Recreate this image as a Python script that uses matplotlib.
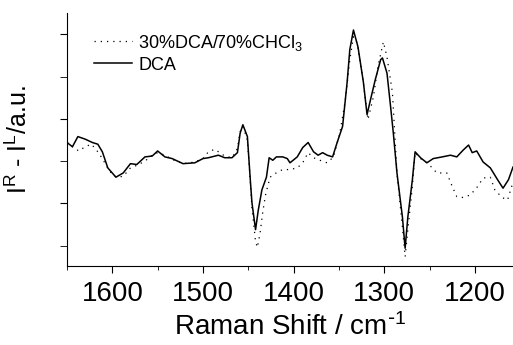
import matplotlib
matplotlib.use("Agg")
import matplotlib.pyplot as plt
from matplotlib.ticker import MultipleLocator

plt.rcParams['font.family'] = ['Liberation Sans', 'DejaVu Sans']
plt.rcParams['mathtext.default'] = 'regular'

# DCA (solid)
dca_x = [1650, 1644, 1638, 1630, 1622, 1616, 1611, 1605, 1596, 1588, 1580, 1573,
         1564, 1556, 1550, 1542, 1534, 1522, 1509, 1500, 1494, 1483, 1476, 1468,
         1462, 1459, 1456, 1451, 1448, 1446, 1442, 1439, 1435, 1430, 1427, 1423,
         1419, 1412, 1407, 1404, 1396, 1390, 1384, 1378, 1373, 1368, 1363, 1357,
         1352, 1346, 1341, 1338, 1334, 1329, 1323, 1319, 1316, 1310, 1304, 1302,
         1297, 1293, 1290, 1286, 1280, 1277, 1274, 1269, 1266, 1260, 1253, 1246,
         1236, 1227, 1220, 1213, 1207, 1203, 1198, 1191, 1183, 1175, 1169, 1163, 1158]
dca_y = [-0.28, -0.33, -0.21, -0.24, -0.28, -0.30, -0.39, -0.58, -0.69, -0.64, -0.53, -0.54,
         -0.45, -0.44, -0.38, -0.45, -0.47, -0.53, -0.52, -0.47, -0.46, -0.43, -0.46, -0.46,
         -0.40, -0.17, -0.07, -0.21, -0.69, -0.99, -1.31, -1.08, -0.84, -0.69, -0.46, -0.49,
         -0.45, -0.45, -0.47, -0.52, -0.45, -0.34, -0.28, -0.39, -0.43, -0.40, -0.43, -0.45,
         -0.28, -0.09, 0.43, 0.82, 1.05, 0.85, 0.43, 0.05, 0.19, 0.46, 0.70, 0.72,
         0.54, 0.14, -0.17, -0.64, -1.16, -1.53, -1.16, -0.72, -0.39, -0.46, -0.52, -0.47,
         -0.45, -0.43, -0.45, -0.37, -0.31, -0.40, -0.38, -0.51, -0.58, -0.72, -0.82, -0.72, -0.57]

# 30%DCA/70%CHCl3 (dotted)
mix_x = [1650, 1644, 1637, 1630, 1623, 1616, 1611, 1603, 1596, 1588, 1580, 1573,
         1564, 1556, 1550, 1542, 1534, 1522, 1509, 1500, 1494, 1487, 1476, 1468,
         1462, 1459, 1456, 1451, 1448, 1446, 1442, 1440, 1437, 1434, 1431, 1426,
         1418, 1412, 1404, 1396, 1390, 1384, 1378, 1371, 1363, 1356, 1349, 1343,
         1338, 1334, 1330, 1324, 1318, 1312, 1307, 1301, 1297, 1291, 1286, 1280,
         1277, 1274, 1269, 1266, 1260, 1253, 1247, 1242, 1231, 1225, 1220, 1213,
         1205, 1197, 1191, 1183, 1178, 1170, 1164, 1158]
mix_y = [-0.28, -0.33, -0.38, -0.33, -0.30, -0.39, -0.47, -0.62, -0.69, -0.68, -0.58, -0.55,
         -0.50, -0.43, -0.40, -0.43, -0.48, -0.53, -0.51, -0.47, -0.39, -0.36, -0.44, -0.46,
         -0.35, -0.15, -0.09, -0.25, -0.70, -1.05, -1.45, -1.52, -1.35, -1.10, -0.90, -0.69,
         -0.63, -0.60, -0.60, -0.58, -0.52, -0.40, -0.46, -0.49, -0.52, -0.45, -0.17, 0.22,
         0.70, 0.97, 0.90, 0.50, -0.01, 0.26, 0.62, 0.91, 0.73, 0.31, -0.64, -1.28,
         -1.63, -1.31, -0.80, -0.40, -0.47, -0.52, -0.58, -0.64, -0.64, -0.80, -0.92, -0.93,
         -0.90, -0.80, -0.70, -0.69, -0.84, -0.93, -0.96, -0.75]

fig = plt.figure(figsize=(5.13, 3.45), dpi=100)
ax = fig.add_axes([0.1306, 0.229, 0.8694, 0.733])

ax.plot(mix_x, mix_y, color='black', lw=0.9, ls=(0, (1, 4)),
        label='30%DCA/70%CHCl$_3$')
ax.plot(dca_x, dca_y, color='black', lw=1.1, label='DCA')

ax.set_xlim(1650, 1158)
ax.set_ylim(-1.74, 1.25)

ax.spines['top'].set_visible(False)
ax.spines['right'].set_visible(False)

ax.xaxis.set_major_locator(MultipleLocator(100))
ax.xaxis.set_minor_locator(MultipleLocator(50))
ax.yaxis.set_major_locator(MultipleLocator(1))
ax.yaxis.set_minor_locator(MultipleLocator(0.5))
ax.tick_params(axis='x', which='major', length=5, labelsize=20, pad=6)
ax.tick_params(axis='x', which='minor', length=3)
ax.tick_params(axis='y', which='both', length=5, labelleft=False)

ax.set_xlabel(r'Raman Shift / cm$^{\text{-}1}$', fontsize=20, labelpad=4)
ax.set_ylabel('I$^R$ - I$^L$/a.u.', fontsize=18, labelpad=20)

ax.legend(loc='upper left', bbox_to_anchor=(0.04, 0.958), frameon=False,
          fontsize=13, handlelength=2.1, handletextpad=0.35, labelspacing=0.22,
          borderpad=0)

fig.savefig('out.png', dpi=100)
